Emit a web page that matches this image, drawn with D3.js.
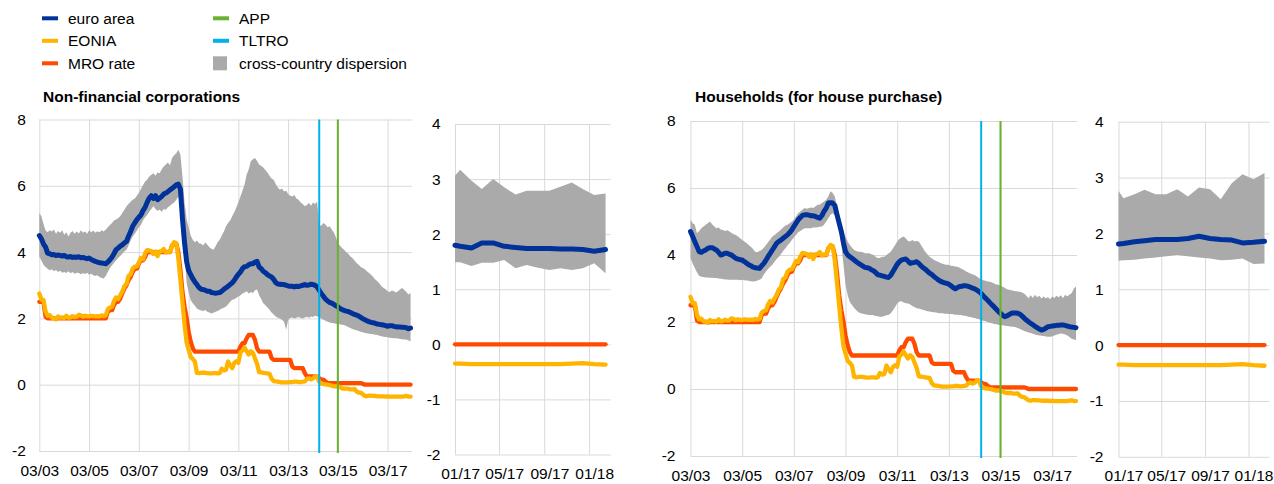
<!DOCTYPE html>
<meta charset="utf-8">
<html>
<head>
<title>Lending rates</title>
<style>
  body { margin: 0; background: #fff; }
  svg text { font-family: "Liberation Sans", Arial, sans-serif; font-size: 15.5px; fill: #000; }
  .title { font-weight: bold; }
</style>
</head>
<body>
<script src="https://cdnjs.cloudflare.com/ajax/libs/d3/7.8.5/d3.min.js"></script>
<script>

// monthly series, Mar 2003 .. Feb 2018 (one row per year)
var nfcEuroArea = [
  4.50, 4.40, 4.25, 4.15, 3.97, 3.95, 3.92, 3.93, 3.90, 3.91,
  3.90, 3.88, 3.90, 3.86, 3.85, 3.87, 3.84, 3.85, 3.84, 3.86, 3.83, 3.84,
  3.82, 3.80, 3.82, 3.78, 3.75, 3.72, 3.70, 3.68, 3.67, 3.66, 3.65, 3.70,
  3.77, 3.85, 3.95, 4.07, 4.12, 4.18, 4.22, 4.28, 4.32, 4.48, 4.62, 4.78,
  4.88, 4.98, 5.05, 5.12, 5.25, 5.35, 5.50, 5.63, 5.70, 5.62, 5.70, 5.58,
  5.63, 5.68, 5.75, 5.78, 5.82, 5.88, 5.92, 5.97, 6.03, 6.05, 5.90, 5.00,
  4.27, 3.70, 3.45, 3.32, 3.20, 3.10, 3.02, 2.93, 2.88, 2.87, 2.85, 2.82,
  2.82, 2.78, 2.77, 2.76, 2.77, 2.78, 2.82, 2.88, 2.92, 2.97, 3.02, 3.07,
  3.15, 3.25, 3.33, 3.40, 3.50, 3.56, 3.57, 3.62, 3.65, 3.65, 3.70, 3.72,
  3.55, 3.50, 3.42, 3.38, 3.32, 3.28, 3.25, 3.18, 3.08, 3.04, 3.03, 3.02,
  3.02, 3.00, 2.98, 2.97, 2.97, 2.95, 2.97, 2.96, 2.98, 3.00, 3.02, 3.00,
  3.01, 3.03, 3.02, 3.00, 2.95, 2.85, 2.75, 2.67, 2.58, 2.53, 2.48, 2.46,
  2.42, 2.38, 2.35, 2.30, 2.27, 2.24, 2.22, 2.21, 2.18, 2.15, 2.12, 2.10,
  2.07, 2.03, 1.99, 1.96, 1.93, 1.90, 1.88, 1.87, 1.85, 1.83, 1.82, 1.81,
  1.80, 1.78, 1.76, 1.78, 1.78, 1.76, 1.75, 1.74, 1.74, 1.73, 1.73, 1.72,
  1.69, 1.71
];
var nfcHigh = [
  5.18, 5.08, 4.85, 4.65, 4.60, 4.66, 4.62, 4.68, 4.55, 4.64,
  4.58, 4.66, 4.52, 4.60, 4.47, 4.58, 4.64, 4.55, 4.62, 4.56, 4.66, 4.58,
  4.62, 4.55, 4.66, 4.60, 4.65, 4.58, 4.63, 4.60, 4.66, 4.62, 4.68, 4.75,
  4.82, 4.88, 4.95, 4.98, 5.02, 5.08, 5.18, 5.28, 5.38, 5.45, 5.52, 5.58,
  5.62, 5.70, 5.78, 5.90, 6.02, 6.13, 6.18, 6.28, 6.33, 6.38, 6.30, 6.40,
  6.38, 6.50, 6.58, 6.64, 6.70, 6.62, 6.84, 6.92, 6.98, 7.09, 6.94, 6.28,
  5.48, 4.98, 4.75, 4.50, 4.37, 4.30, 4.35, 4.27, 4.25, 4.20, 4.30, 4.22,
  4.15, 4.10, 4.07, 4.18, 4.30, 4.37, 4.50, 4.62, 4.78, 4.88, 4.95, 5.08,
  5.20, 5.35, 5.50, 5.68, 5.85, 6.05, 6.33, 6.50, 6.74, 6.80, 6.84, 6.75,
  6.64, 6.60, 6.55, 6.48, 6.40, 6.30, 6.22, 6.18, 6.05, 5.95, 5.88, 5.92,
  5.83, 5.85, 5.75, 5.70, 5.68, 5.72, 5.62, 5.58, 5.50, 5.45, 5.38, 5.42,
  5.48, 5.40, 5.50, 5.45, 5.53, 4.78, 4.80, 4.88, 4.83, 4.75, 4.78, 4.68,
  4.60, 4.45, 4.27, 4.20, 4.12, 4.07, 4.00, 3.95, 3.87, 3.82, 3.75, 3.67,
  3.62, 3.55, 3.52, 3.48, 3.42, 3.37, 3.32, 3.25, 3.17, 3.12, 3.05, 2.97,
  2.92, 2.88, 2.82, 2.80, 2.84, 2.82, 2.78, 2.82, 2.88, 2.92, 2.86, 2.80,
  2.72, 2.77
];
var nfcLow = [
  3.87, 3.75, 3.62, 3.55, 3.50, 3.45, 3.48, 3.42, 3.46, 3.40,
  3.44, 3.38, 3.40, 3.37, 3.42, 3.36, 3.40, 3.35, 3.38, 3.37, 3.33, 3.36,
  3.34, 3.38, 3.32, 3.35, 3.30, 3.28, 3.30, 3.25, 3.22, 3.20, 3.28, 3.40,
  3.52, 3.60, 3.68, 3.75, 3.82, 3.88, 3.95, 4.02, 4.07, 4.20, 4.35, 4.47,
  4.55, 4.65, 4.75, 4.82, 4.95, 5.05, 5.12, 5.22, 5.30, 5.38, 5.30, 5.25,
  5.28, 5.22, 5.30, 5.28, 5.35, 5.40, 5.45, 5.50, 5.58, 5.68, 5.50, 4.60,
  3.87, 3.07, 2.80, 2.55, 2.46, 2.38, 2.30, 2.26, 2.24, 2.22, 2.25, 2.20,
  2.18, 2.15, 2.17, 2.20, 2.22, 2.26, 2.30, 2.32, 2.36, 2.42, 2.50, 2.56,
  2.58, 2.62, 2.66, 2.70, 2.75, 2.78, 2.82, 2.75, 2.80, 2.77, 2.85, 2.87,
  2.70, 2.58, 2.46, 2.40, 2.33, 2.26, 2.18, 2.12, 2.06, 2.02, 2.00, 1.96,
  1.90, 1.66, 1.95, 2.01, 2.03, 2.00, 2.02, 2.04, 2.01, 2.00, 2.03, 2.05,
  2.02, 2.06, 2.04, 2.08, 2.06, 2.05, 2.00, 1.96, 1.93, 1.90, 1.88, 1.86,
  1.85, 1.84, 1.83, 1.82, 1.81, 1.80, 1.77, 1.74, 1.71, 1.68, 1.66, 1.64,
  1.62, 1.60, 1.58, 1.56, 1.55, 1.54, 1.53, 1.52, 1.51, 1.50, 1.48, 1.46,
  1.45, 1.44, 1.43, 1.42, 1.41, 1.40, 1.40, 1.39, 1.38, 1.37, 1.36, 1.36,
  1.33, 1.31
];
var hhEuroArea = [
  4.70, 4.55, 4.40, 4.25, 4.10, 4.08, 4.12, 4.15, 4.20, 4.22,
  4.22, 4.18, 4.15, 4.08, 4.00, 4.02, 4.05, 4.05, 4.02, 4.00, 3.95, 3.90,
  3.88, 3.86, 3.85, 3.80, 3.76, 3.71, 3.68, 3.64, 3.62, 3.61, 3.60, 3.68,
  3.75, 3.85, 3.95, 4.05, 4.15, 4.25, 4.35, 4.40, 4.45, 4.50, 4.55, 4.60,
  4.67, 4.75, 4.85, 4.95, 5.05, 5.12, 5.18, 5.20, 5.20, 5.19, 5.17, 5.17,
  5.15, 5.12, 5.10, 5.18, 5.30, 5.40, 5.55, 5.56, 5.55, 5.48, 5.20, 4.95,
  4.70, 4.35, 4.10, 4.00, 3.95, 3.90, 3.85, 3.80, 3.75, 3.71, 3.67, 3.63,
  3.62, 3.60, 3.56, 3.53, 3.48, 3.41, 3.40, 3.38, 3.36, 3.34, 3.33, 3.40,
  3.51, 3.62, 3.72, 3.80, 3.85, 3.87, 3.88, 3.82, 3.75, 3.77, 3.78, 3.80,
  3.75, 3.68, 3.62, 3.58, 3.52, 3.46, 3.42, 3.36, 3.31, 3.26, 3.22, 3.19,
  3.17, 3.15, 3.13, 3.08, 3.03, 2.99, 3.03, 3.06, 3.07, 3.08, 3.08, 3.06,
  3.04, 3.01, 2.99, 2.95, 2.91, 2.85, 2.78, 2.71, 2.65, 2.58, 2.51, 2.45,
  2.38, 2.31, 2.26, 2.20, 2.16, 2.18, 2.22, 2.26, 2.27, 2.27, 2.26, 2.23,
  2.18, 2.11, 2.06, 2.01, 1.96, 1.92, 1.87, 1.83, 1.79, 1.76, 1.78, 1.82,
  1.86, 1.87, 1.88, 1.89, 1.90, 1.90, 1.91, 1.91, 1.90, 1.88, 1.86, 1.85,
  1.84, 1.83
];
var hhHigh = [
  5.05, 4.95, 4.90, 4.65, 4.72, 4.80, 4.85, 4.90, 4.95, 5.00,
  4.92, 4.85, 4.80, 4.82, 4.76, 4.75, 4.72, 4.74, 4.70, 4.66, 4.62, 4.60,
  4.55, 4.50, 4.45, 4.40, 4.36, 4.30, 4.25, 4.18, 4.10, 4.08, 4.12, 4.15,
  4.22, 4.30, 4.38, 4.46, 4.55, 4.60, 4.65, 4.70, 4.76, 4.82, 4.88, 4.90,
  4.95, 5.00, 5.05, 5.15, 5.25, 5.30, 5.35, 5.40, 5.38, 5.40, 5.42, 5.40,
  5.45, 5.50, 5.50, 5.55, 5.60, 5.65, 5.75, 5.90, 5.85, 5.75, 5.40, 5.20,
  4.85, 4.70, 4.55, 4.40, 4.30, 4.22, 4.15, 4.12, 4.10, 4.10, 4.08, 4.05,
  4.05, 4.05, 4.02, 4.00, 3.95, 3.90, 3.92, 3.95, 3.95, 4.00, 4.05, 4.10,
  4.20, 4.30, 4.40, 4.48, 4.52, 4.55, 4.50, 4.42, 4.40, 4.45, 4.40, 4.42,
  4.40, 4.30, 4.20, 4.10, 4.02, 3.95, 3.90, 3.86, 3.82, 3.80, 3.76, 3.74,
  3.72, 3.71, 3.70, 3.68, 3.67, 3.66, 3.65, 3.62, 3.58, 3.55, 3.51, 3.48,
  3.45, 3.42, 3.40, 3.36, 3.31, 3.28, 3.25, 3.23, 3.21, 3.20, 3.18, 3.15,
  3.12, 3.11, 3.08, 3.05, 3.02, 2.98, 2.96, 2.95, 2.93, 2.92, 2.91, 2.90,
  2.88, 2.84, 2.78, 2.71, 2.80, 2.72, 2.81, 2.74, 2.78, 2.70, 2.76, 2.71,
  2.74, 2.68, 2.76, 2.72, 2.78, 2.74, 2.80, 2.72, 2.81, 2.76, 2.82, 2.86,
  3.00, 3.06
];
var hhLow = [
  3.90, 3.75, 3.61, 3.48, 3.38, 3.35, 3.34, 3.33, 3.33, 3.32,
  3.32, 3.31, 3.31, 3.30, 3.29, 3.28, 3.27, 3.27, 3.26, 3.26, 3.26, 3.26,
  3.26, 3.25, 3.26, 3.25, 3.24, 3.23, 3.22, 3.21, 3.22, 3.24, 3.26, 3.30,
  3.42, 3.51, 3.58, 3.65, 3.71, 3.80, 3.88, 3.95, 4.03, 4.12, 4.20, 4.28,
  4.36, 4.45, 4.52, 4.60, 4.68, 4.72, 4.76, 4.80, 4.80, 4.80, 4.80, 4.82,
  4.82, 4.83, 4.84, 4.85, 4.90, 5.00, 5.10, 5.20, 5.25, 5.18, 5.10, 4.80,
  4.30, 3.70, 3.11, 2.80, 2.60, 2.51, 2.42, 2.35, 2.29, 2.26, 2.25, 2.23,
  2.22, 2.21, 2.21, 2.20, 2.18, 2.17, 2.16, 2.16, 2.18, 2.20, 2.22, 2.26,
  2.35, 2.45, 2.55, 2.61, 2.62, 2.58, 2.56, 2.55, 2.52, 2.48, 2.45, 2.41,
  2.40, 2.38, 2.36, 2.34, 2.32, 2.31, 2.30, 2.29, 2.28, 2.27, 2.26, 2.26,
  2.25, 2.25, 2.24, 2.24, 2.23, 2.22, 2.22, 2.21, 2.20, 2.19, 2.18, 2.16,
  2.15, 2.13, 2.12, 2.10, 2.08, 2.06, 2.04, 2.02, 2.00, 1.98, 1.96, 1.94,
  1.93, 1.92, 1.91, 1.90, 1.89, 1.88, 1.87, 1.86, 1.86, 1.84, 1.82, 1.79,
  1.76, 1.73, 1.71, 1.69, 1.67, 1.65, 1.63, 1.61, 1.60, 1.59, 1.58, 1.57,
  1.56, 1.56, 1.57, 1.60, 1.62, 1.64, 1.66, 1.65, 1.63, 1.60, 1.55, 1.50,
  1.48, 1.46
];
var eonia = [
  2.75, 2.56, 2.56, 2.21, 2.08, 2.10, 2.02, 2.01, 1.97, 2.06,
  2.02, 2.03, 2.01, 2.08, 2.02, 2.03, 2.07, 2.04, 2.05, 2.11, 2.09, 2.05,
  2.08, 2.06, 2.06, 2.08, 2.07, 2.06, 2.07, 2.06, 2.09, 2.07, 2.09, 2.28,
  2.33, 2.35, 2.52, 2.63, 2.58, 2.70, 2.81, 2.97, 3.04, 3.28, 3.33, 3.50,
  3.56, 3.57, 3.69, 3.82, 3.79, 3.96, 4.06, 4.05, 4.03, 3.94, 4.02, 3.88,
  4.02, 4.03, 4.09, 3.99, 4.01, 4.01, 4.19, 4.30, 4.27, 3.82, 3.15, 2.49,
  1.81, 1.26, 1.06, 0.84, 0.78, 0.70, 0.36, 0.35, 0.36, 0.36, 0.36, 0.35,
  0.34, 0.34, 0.35, 0.35, 0.34, 0.35, 0.48, 0.43, 0.45, 0.70, 0.59, 0.50,
  0.66, 0.71, 0.66, 0.97, 1.03, 1.12, 1.01, 0.91, 1.01, 0.96, 0.79, 0.63,
  0.38, 0.37, 0.36, 0.35, 0.34, 0.33, 0.18, 0.11, 0.10, 0.09, 0.08, 0.07,
  0.07, 0.07, 0.07, 0.08, 0.08, 0.09, 0.09, 0.08, 0.08, 0.09, 0.10, 0.17,
  0.20, 0.16, 0.19, 0.25, 0.25, 0.08, 0.04, 0.02, 0.01, 0.00, -0.01, -0.03,
  -0.05, -0.04, -0.05, -0.07, -0.11, -0.12, -0.12, -0.12, -0.14, -0.14, -0.13, -0.20,
  -0.24, -0.24, -0.29, -0.34, -0.35, -0.33, -0.33, -0.34, -0.34, -0.35, -0.35, -0.35,
  -0.35, -0.36, -0.35, -0.36, -0.36, -0.36, -0.36, -0.36, -0.36, -0.36, -0.35, -0.34,
  -0.36, -0.36
];
var mroRate = [
  2.50, 2.50, 2.50, 2.05, 2.00, 2.00, 2.00, 2.00, 2.00, 2.00,
  2.00, 2.00, 2.00, 2.00, 2.00, 2.00, 2.00, 2.00, 2.00, 2.00, 2.00, 2.00,
  2.00, 2.00, 2.00, 2.00, 2.00, 2.00, 2.00, 2.00, 2.00, 2.00, 2.00, 2.20,
  2.25, 2.25, 2.40, 2.50, 2.50, 2.60, 2.75, 2.90, 3.00, 3.15, 3.25, 3.40,
  3.50, 3.50, 3.65, 3.75, 3.75, 3.85, 4.00, 4.00, 4.00, 4.00, 4.00, 4.00,
  4.00, 4.00, 4.00, 4.00, 4.00, 4.00, 4.20, 4.25, 4.25, 4.00, 3.45, 2.80,
  2.35, 2.00, 1.60, 1.30, 1.10, 1.00, 1.00, 1.00, 1.00, 1.00, 1.00, 1.00,
  1.00, 1.00, 1.00, 1.00, 1.00, 1.00, 1.00, 1.00, 1.00, 1.00, 1.00, 1.00,
  1.00, 1.00, 1.00, 1.15, 1.25, 1.25, 1.40, 1.50, 1.50, 1.50, 1.35, 1.10,
  1.00, 1.00, 1.00, 1.00, 1.00, 1.00, 0.80, 0.75, 0.75, 0.75, 0.75, 0.75,
  0.75, 0.75, 0.75, 0.75, 0.55, 0.50, 0.50, 0.50, 0.50, 0.50, 0.35, 0.25,
  0.25, 0.25, 0.25, 0.25, 0.25, 0.20, 0.15, 0.15, 0.10, 0.05, 0.05, 0.05,
  0.05, 0.05, 0.05, 0.05, 0.05, 0.05, 0.05, 0.05, 0.05, 0.05, 0.05, 0.05,
  0.05, 0.05, 0.03, 0.00, 0.00, 0.00, 0.00, 0.00, 0.00, 0.00, 0.00, 0.00,
  0.00, 0.00, 0.00, 0.00, 0.00, 0.00, 0.00, 0.00, 0.00, 0.00, 0.00, 0.00,
  0.00, 0.00
];

// recent close-up, Jan 2017 .. Feb 2018
var recentDates = ["2017-01-01", "2017-01-15", "2017-02-15", "2017-03-15", "2017-04-15",
  "2017-05-15", "2017-06-15", "2017-07-15", "2017-08-15", "2017-09-15", "2017-10-15",
  "2017-11-15", "2017-12-15", "2018-01-15", "2018-02-15"];
var nfcEuroAreaRecent = [1.80, 1.78, 1.75, 1.84, 1.84, 1.78, 1.76, 1.74, 1.74, 1.74, 1.73, 1.73, 1.72, 1.69, 1.72];
var nfcHighRecent = [3.06, 3.17, 2.97, 2.82, 3.00, 2.85, 2.72, 2.79, 2.79, 2.79, 2.86, 2.94, 2.82, 2.71, 2.74];
var nfcLowRecent = [1.49, 1.49, 1.42, 1.48, 1.48, 1.53, 1.38, 1.44, 1.39, 1.35, 1.38, 1.35, 1.38, 1.47, 1.29];
var hhEuroAreaRecent = [1.81, 1.82, 1.85, 1.87, 1.89, 1.89, 1.89, 1.91, 1.95, 1.91, 1.89, 1.88, 1.83, 1.84, 1.86];
var hhHighRecent = [2.76, 2.63, 2.70, 2.78, 2.70, 2.70, 2.79, 2.66, 2.82, 2.79, 2.61, 2.90, 3.06, 2.97, 3.08];
var hhLowRecent = [1.51, 1.52, 1.53, 1.55, 1.57, 1.59, 1.61, 1.59, 1.57, 1.55, 1.52, 1.53, 1.55, 1.45, 1.46];
var eoniaRecent = [-0.35, -0.35, -0.36, -0.36, -0.36, -0.36, -0.36, -0.36, -0.36, -0.36, -0.36, -0.35, -0.34, -0.36, -0.37];
var mroRecent = [0, 0, 0, 0, 0, 0, 0, 0, 0, 0, 0, 0, 0, 0, 0];

// policy announcements
var policyNames = ["TLTRO", "APP"];
var policyDates = ["2014-06-01", "2015-03-01"];

// ticks
var longTicks = ["2003-03-01", "2005-03-01", "2007-03-01", "2009-03-01", "2011-03-01", "2013-03-01", "2015-03-01", "2017-03-01"];
var recentTicks = ["2017-01-01", "2017-05-01", "2017-09-01", "2018-01-01"];
var longYTicks = [-2, 0, 2, 4, 6, 8];
var recentYTicks = [-2, -1, 0, 1, 2, 3, 4];

var legendNames = ["euro area", "EONIA", "MRO rate", "APP", "TLTRO", "cross-country dispersion"];

var colors = {
  "euro area": "#003299",
  "EONIA": "#ffb400",
  "MRO rate": "#ff4b00",
  "APP": "#65b32e",
  "TLTRO": "#00b1ea",
  "cross-country dispersion": "#aaaaaa"
};
var gridColor = "#d9d9d9";

var parseDay = d3.timeParse("%Y-%m-%d");
var monthDates = d3.timeMonth.range(new Date(2003, 2, 1), new Date(2018, 2, 1));
var recentDays = recentDates.map(parseDay);

var width = 1274, height = 484;
var svg = d3.select("body").append("svg")
    .attr("width", width)
    .attr("height", height);

// legend
legendNames.forEach(function(name, i) {
  var col = i < 3 ? 0 : 1, row = i % 3;
  var cy = 18.3 + row * 22.5;
  var sx = col == 0 ? 42 : 213;
  if (name == "cross-country dispersion") {
    svg.append("rect").attr("x", sx).attr("y", cy - 7).attr("width", 14).attr("height", 14)
        .attr("fill", colors[name]);
  } else {
    svg.append("rect").attr("x", sx).attr("y", cy - 2).attr("width", 16).attr("height", 4)
        .attr("fill", colors[name]);
  }
  svg.append("text").attr("x", col == 0 ? 68 : 239).attr("y", cy).attr("dy", "0.35em").text(name);
});

var panels = [
  { title: "Non-financial corporations", titleX: 43, x0: 39.3, x1: 412, top: 119.5, bottom: 451,
    xDomain: [new Date(2003, 2, 1), new Date(2018, 1, 22)], yDomain: [-2, 8], yTicks: longYTicks,
    xTicks: longTicks, dates: monthDates, ea: nfcEuroArea, hi: nfcHigh, lo: nfcLow,
    eonia: eonia, mro: mroRate, policy: true, labelShift: 0, yPad: 13.5 },
  { x0: 455, x1: 610.7, top: 124, bottom: 454.5,
    xDomain: [new Date(2017, 0, 1), new Date(2018, 2, 1)], yDomain: [-2, 4], yTicks: recentYTicks,
    xTicks: recentTicks, dates: recentDays, ea: nfcEuroAreaRecent, hi: nfcHighRecent, lo: nfcLowRecent,
    eonia: eoniaRecent, mro: mroRecent, policy: false, labelShift: 14, yPad: 14.5 },
  { title: "Households (for house purchase)", titleX: 695, x0: 690.5, x1: 1077, top: 121, bottom: 456,
    xDomain: [new Date(2003, 2, 1), new Date(2018, 1, 15)], yDomain: [-2, 8], yTicks: longYTicks,
    xTicks: longTicks, dates: monthDates, ea: hhEuroArea, hi: hhHigh, lo: hhLow,
    eonia: eonia, mro: mroRate, policy: true, labelShift: 0, yPad: 15 },
  { x0: 1118.5, x1: 1269.5, top: 121.7, bottom: 456.8,
    xDomain: [new Date(2017, 0, 1), new Date(2018, 2, 1)], yDomain: [-2, 4], yTicks: recentYTicks,
    xTicks: recentTicks, dates: recentDays, ea: hhEuroAreaRecent, hi: hhHighRecent, lo: hhLowRecent,
    eonia: eoniaRecent, mro: mroRecent, policy: false, labelShift: 14, yPad: 15 }
];

panels.forEach(drawPanel);

function drawPanel(p) {
  var g = svg.append("g");
  var x = d3.scaleTime().domain(p.xDomain).range([p.x0, p.x1]);
  var y = d3.scaleLinear().domain(p.yDomain).range([p.bottom, p.top]);

  if (p.title) {
    g.append("text").attr("class", "title").attr("x", p.titleX).attr("y", 97)
        .attr("dy", "0.35em").text(p.title);
  }

  // horizontal grid and value labels
  var yAxis = g.append("g")
      .attr("transform", "translate(" + p.x0 + ",0)")
      .call(d3.axisLeft(y).tickValues(p.yTicks).tickSize(-(p.x1 - p.x0))
          .tickPadding(p.yPad).tickFormat(function(d) { return String(d); }));
  yAxis.select(".domain").remove();
  yAxis.attr("font-size", null).attr("font-family", null);
  yAxis.selectAll("line").attr("stroke", gridColor);

  // vertical grid and date labels
  var xAxis = g.append("g")
      .attr("transform", "translate(0," + p.bottom + ")")
      .call(d3.axisBottom(x).tickValues(p.xTicks.map(parseDay)).tickSize(-(p.bottom - p.top))
          .tickPadding(13.5).tickFormat(d3.timeFormat("%m/%y")));
  xAxis.select(".domain").remove();
  xAxis.attr("font-size", null).attr("font-family", null);
  xAxis.selectAll("line").attr("stroke", gridColor);
  xAxis.selectAll("text").attr("dx", function(d) {
    return x(d3.timeDay.offset(d, p.labelShift)) - x(d);
  });

  var dates = p.dates;

  // cross-country dispersion
  var area = d3.area()
      .x(function(d, i) { return x(dates[i]); })
      .y0(function(d, i) { return y(p.lo[i]); })
      .y1(function(d) { return y(d); });
  g.append("path").attr("d", area(p.hi)).attr("fill", colors["cross-country dispersion"]);

  var line = d3.line()
      .x(function(d, i) { return x(dates[i]); })
      .y(function(d) { return y(d); });

  [["MRO rate", p.mro, 4.3], ["EONIA", p.eonia, 4.3], ["euro area", p.ea, 5]].forEach(function(s) {
    g.append("path")
        .attr("d", line(s[1]))
        .attr("fill", "none")
        .attr("stroke", colors[s[0]])
        .attr("stroke-width", s[2])
        .attr("stroke-linejoin", "round")
        .attr("stroke-linecap", "round");
  });

  if (p.policy) {
    policyNames.forEach(function(name, i) {
      var px = x(parseDay(policyDates[i]));
      g.append("line")
          .attr("x1", px).attr("x2", px)
          .attr("y1", p.top).attr("y2", p.bottom + 2)
          .attr("stroke", colors[name])
          .attr("stroke-width", 2);
    });
  }
}

</script>
</body>
</html>
